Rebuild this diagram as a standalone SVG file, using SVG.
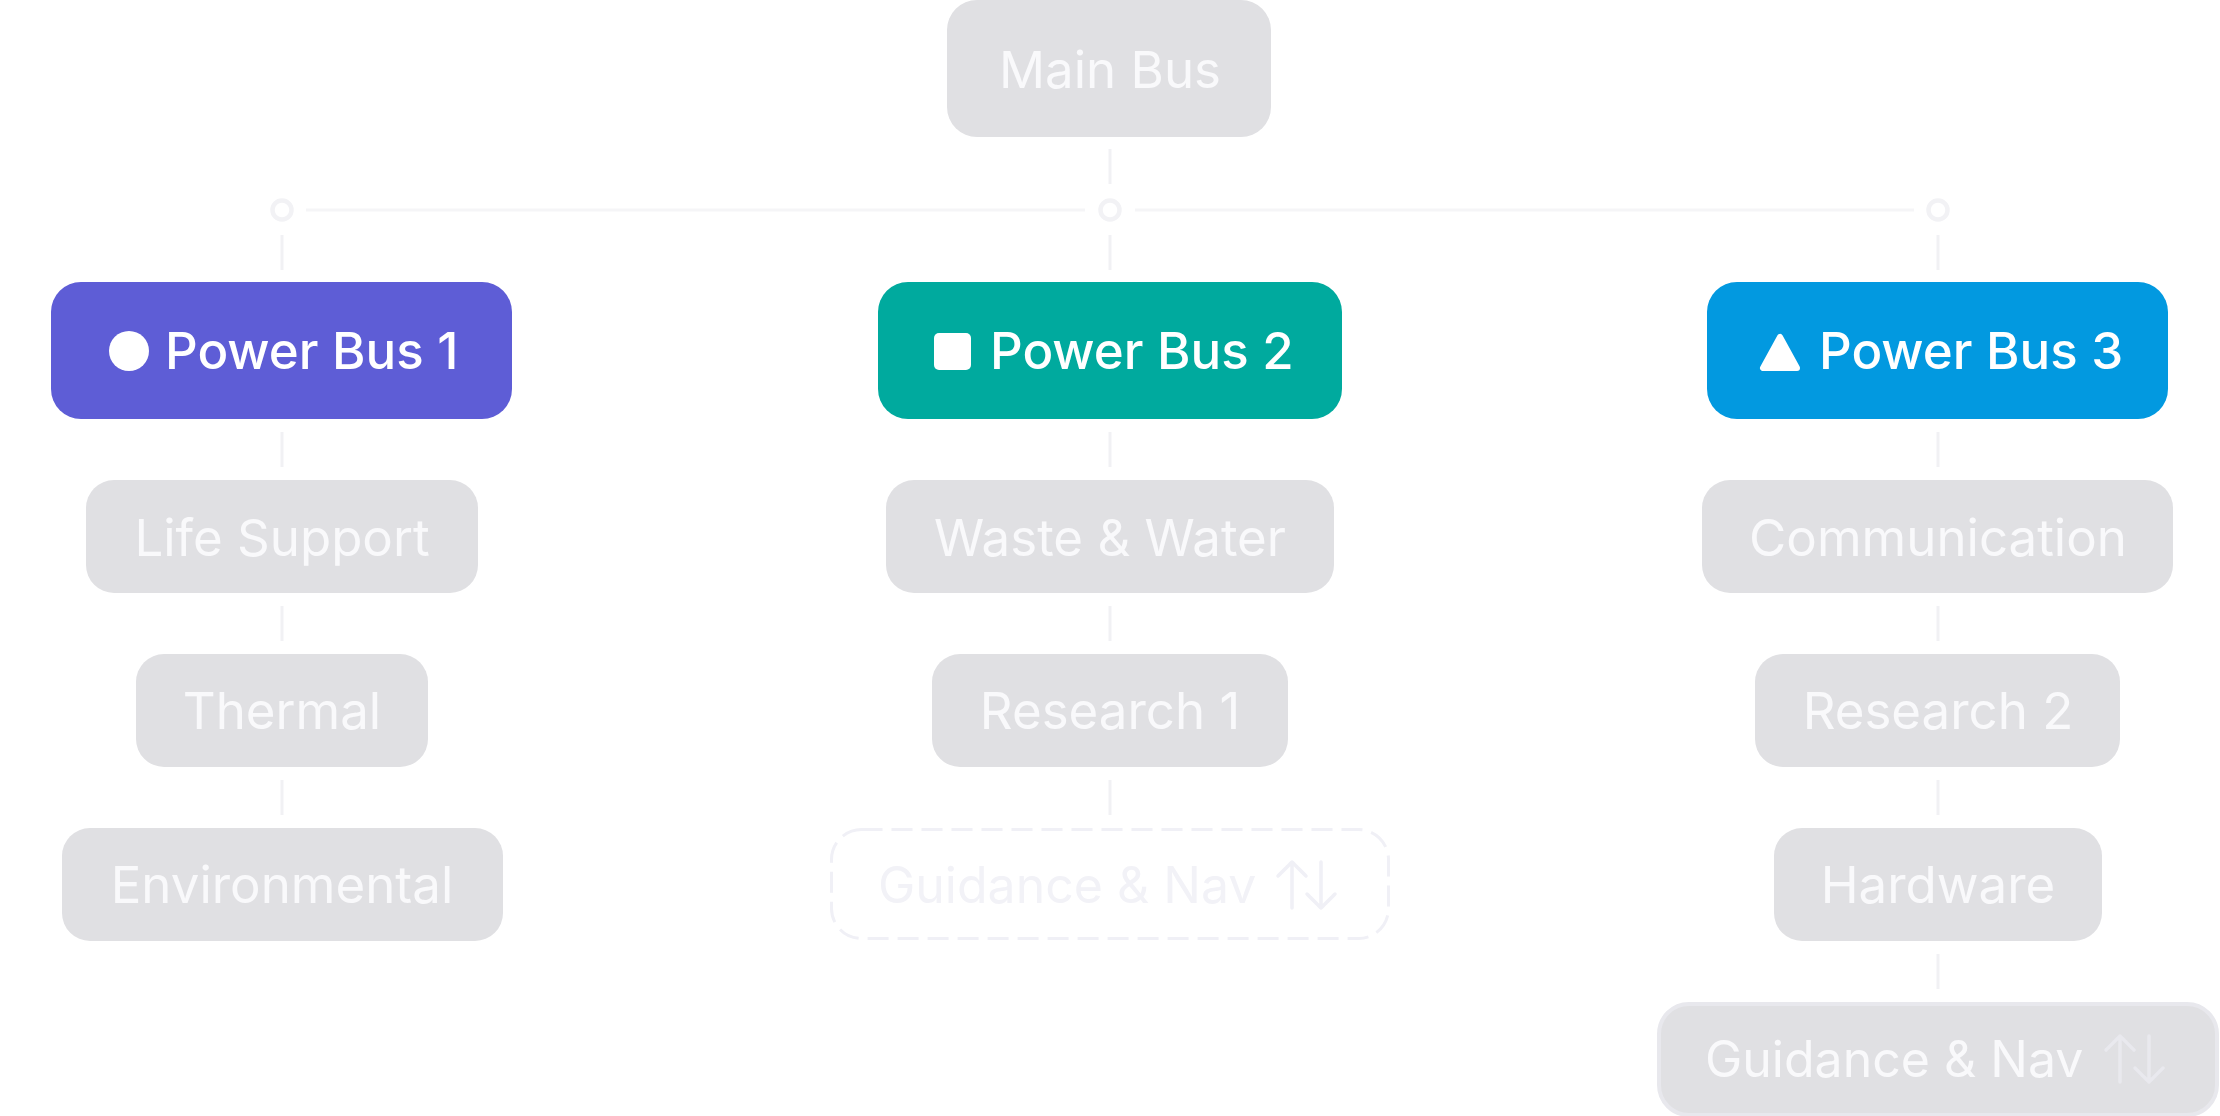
<svg xmlns="http://www.w3.org/2000/svg" width="2220" height="1116" viewBox="0 0 2220 1116">
<style>
.bg{fill:#ffffff}
.node{fill:#e0e0e3}
.lbl{font-family:Inter,"Noto Sans","Liberation Sans",sans-serif;font-size:51px;fill:#f9f9fb;text-anchor:middle}
.pb{font-family:Inter,"Noto Sans","Liberation Sans",sans-serif;font-size:51px;font-weight:500;fill:#ffffff}
.ln{stroke:#f1f1f4;stroke-width:3;fill:none}
.hl{stroke:#f5f5f7;stroke-width:3;fill:none}
.jn{stroke:#f2f2f5;stroke-width:4.5;fill:#ffffff}
.ghost{fill:none;stroke:#f0f0f6;stroke-width:3;stroke-dasharray:21 9}
.ghostlbl{font-family:Inter,"Noto Sans","Liberation Sans",sans-serif;font-size:50px;fill:#f2f2f7}
.arr{fill:none;stroke-width:3.5;stroke-linecap:round;stroke-linejoin:round}
</style>
<rect class="bg" x="0" y="0" width="2220" height="1116"/>
<g id="connectors">
  <line class="ln" x1="1110" y1="149" x2="1110" y2="184"/>
  <line class="hl" x1="306" y1="210" x2="1085" y2="210"/>
  <line class="hl" x1="1135" y1="210" x2="1914" y2="210"/>
  <circle class="jn" cx="282" cy="210" r="9.5"/>
  <circle class="jn" cx="1110" cy="210" r="9.5"/>
  <circle class="jn" cx="1938" cy="210" r="9.5"/>
  <line class="ln" x1="282" y1="235" x2="282" y2="270"/>
  <line class="ln" x1="1110" y1="235" x2="1110" y2="270"/>
  <line class="ln" x1="1938" y1="235" x2="1938" y2="270"/>
  <line class="ln" x1="282" y1="432" x2="282" y2="467"/>
  <line class="ln" x1="1110" y1="432" x2="1110" y2="467"/>
  <line class="ln" x1="1938" y1="432" x2="1938" y2="467"/>
  <line class="ln" x1="282" y1="606" x2="282" y2="641"/>
  <line class="ln" x1="1110" y1="606" x2="1110" y2="641"/>
  <line class="ln" x1="1938" y1="606" x2="1938" y2="641"/>
  <line class="ln" x1="282" y1="780" x2="282" y2="815"/>
  <line class="ln" x1="1110" y1="780" x2="1110" y2="815"/>
  <line class="ln" x1="1938" y1="780" x2="1938" y2="815"/>
  <line class="ln" x1="1938" y1="954" x2="1938" y2="989"/>
</g>
<g id="main-bus">
  <rect class="node" x="947" y="0" width="324" height="137" rx="30"/>
  <text class="lbl" x="1110" y="88">Main Bus</text>
</g>
<g id="power-bus-1">
  <rect x="51" y="282" width="461" height="137" rx="30" fill="#5e5dd6"/>
  <circle cx="129" cy="351" r="20" fill="#ffffff"/>
  <text class="pb" x="165" y="369">Power Bus 1</text>
</g>
<g id="power-bus-2">
  <rect x="878" y="282" width="464" height="137" rx="30" fill="#00aa9e"/>
  <rect x="934" y="333" width="37" height="37" rx="5" fill="#ffffff"/>
  <text class="pb" x="990" y="369">Power Bus 2</text>
</g>
<g id="power-bus-3">
  <rect x="1707" y="282" width="461" height="137" rx="30" fill="#0299e0"/>
  <path d="M1780 337 L1763 368 L1797 368 Z" fill="#ffffff" stroke="#ffffff" stroke-width="6" stroke-linejoin="round"/>
  <text class="pb" x="1819" y="369">Power Bus 3</text>
</g>
<g id="life-support">
  <rect class="node" x="86" y="480" width="392" height="113" rx="28"/>
  <text class="lbl" x="282" y="556">Life Support</text>
</g>
<g id="thermal">
  <rect class="node" x="136" y="654" width="292" height="113" rx="28"/>
  <text class="lbl" x="282" y="729">Thermal</text>
</g>
<g id="environmental">
  <rect class="node" x="62" y="828" width="441" height="113" rx="28"/>
  <text class="lbl" x="282" y="903">Environmental</text>
</g>
<g id="waste-water">
  <rect class="node" x="886" y="480" width="448" height="113" rx="28"/>
  <text class="lbl" x="1110" y="556">Waste &amp; Water</text>
</g>
<g id="research-1">
  <rect class="node" x="932" y="654" width="356" height="113" rx="28"/>
  <text class="lbl" x="1110" y="729">Research 1</text>
</g>
<g id="guidance-nav-ghost">
  <rect class="ghost" x="831.5" y="829.5" width="557" height="109" rx="30"/>
  <text class="ghostlbl" x="878" y="903">Guidance &amp; Nav</text>
  <g class="arr" stroke="#f0f0f6">
    <path d="M1292 908 V862 M1278 876 L1292 862 L1306 876"/>
    <path d="M1321 862 V908 M1307 894 L1321 908 L1335 894"/>
  </g>
</g>
<g id="communication">
  <rect class="node" x="1702" y="480" width="471" height="113" rx="28"/>
  <text class="lbl" x="1938" y="556">Communication</text>
</g>
<g id="research-2">
  <rect class="node" x="1755" y="654" width="365" height="113" rx="28"/>
  <text class="lbl" x="1938" y="729">Research 2</text>
</g>
<g id="hardware">
  <rect class="node" x="1774" y="828" width="328" height="113" rx="28"/>
  <text class="lbl" x="1938" y="903">Hardware</text>
</g>
<g id="guidance-nav">
  <rect class="node" x="1659" y="1004" width="558" height="111" rx="30" stroke="#e8e8ed" stroke-width="4"/>
  <text class="lbl" x="1705" y="1077" style="text-anchor:start;font-size:50px">Guidance &amp; Nav</text>
  <g class="arr" stroke="#e9e9ee">
    <path d="M2120 1082 V1036 M2106 1050 L2120 1036 L2134 1050"/>
    <path d="M2149 1036 V1082 M2135 1068 L2149 1082 L2163 1068"/>
  </g>
</g>
</svg>
